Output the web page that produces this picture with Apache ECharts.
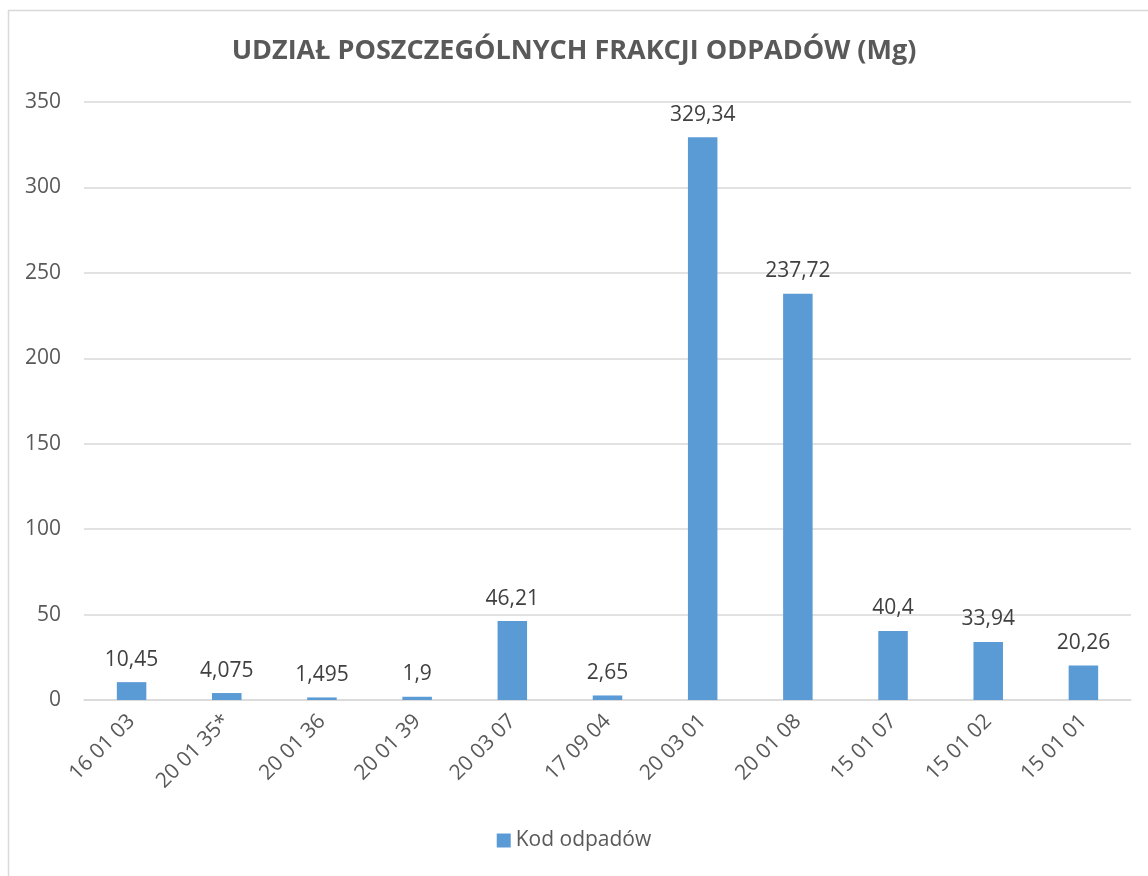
<!DOCTYPE html>
<html>
<head>
<meta charset="utf-8" />
<title>Udział frakcji odpadów</title>
</head>
<body style="margin: 0; background: #fff">
<div id="container" style="width: 1148px; height: 876px"></div>
<script type="text/javascript" src="https://cdn.jsdelivr.net/npm/echarts@6/dist/echarts.min.js"></script>
<script type="text/javascript">
    var kody = ['16 01 03', '20 01 35*', '20 01 36', '20 01 39', '20 03 07', '17 09 04', '20 03 01', '20 01 08', '15 01 07', '15 01 02', '15 01 01'];
    var masa = [10.45, 4.075, 1.495, 1.9, 46.21, 2.65, 329.34, 237.72, 40.4, 33.94, 20.26];
    var nazwaSerii = 'Kod odpadów';
    var tytul = 'UDZIAŁ POSZCZEGÓLNYCH FRAKCJI ODPADÓW (Mg)';

    var font = '"Open Sans", "Liberation Sans", sans-serif';
    var dom = document.getElementById('container');
    var myChart = echarts.init(dom);

    var option = {
        animation: false,
        textStyle: { fontFamily: font },
        graphic: [{
            type: 'rect',
            shape: { x: 8.5, y: 10.5, width: 1200, height: 900 },
            style: { fill: 'none', stroke: '#d9d9d9', lineWidth: 1.5 },
            silent: true
        }],
        title: {
            text: tytul,
            left: 'center',
            top: 33,
            textStyle: { fontSize: 27, fontWeight: 'bold', color: '#595959', fontFamily: font }
        },
        legend: {
            bottom: 20,
            left: 'center',
            itemWidth: 14,
            itemHeight: 14,
            itemGap: 6,
            icon: 'rect',
            textStyle: { fontSize: 21, color: '#595959' },
            data: [nazwaSerii]
        },
        grid: { left: 84, right: 17, top: 102, bottom: 176, containLabel: false },
        xAxis: {
            type: 'category',
            data: kody,
            axisTick: { show: false },
            axisLine: { lineStyle: { color: '#d9d9d9', width: 1.5 } },
            axisLabel: { rotate: 45, fontSize: 21, color: '#595959', margin: 18, interval: 0 }
        },
        yAxis: {
            type: 'value',
            min: 0,
            max: 350,
            interval: 50,
            axisLine: { show: false },
            axisTick: { show: false },
            splitLine: { lineStyle: { color: '#d9d9d9', width: 1.5 } },
            axisLabel: { fontSize: 21, color: '#595959', margin: 23 }
        },
        series: [{
            name: nazwaSerii,
            type: 'bar',
            data: masa,
            barWidth: '31%',
            itemStyle: { color: '#5b9bd5' },
            label: {
                show: true,
                position: 'top',
                distance: 12,
                fontSize: 21,
                color: '#404040',
                formatter: function (p) { return String(p.value).replace('.', ','); }
            }
        }]
    };
    myChart.setOption(option);
</script>
</body>
</html>
